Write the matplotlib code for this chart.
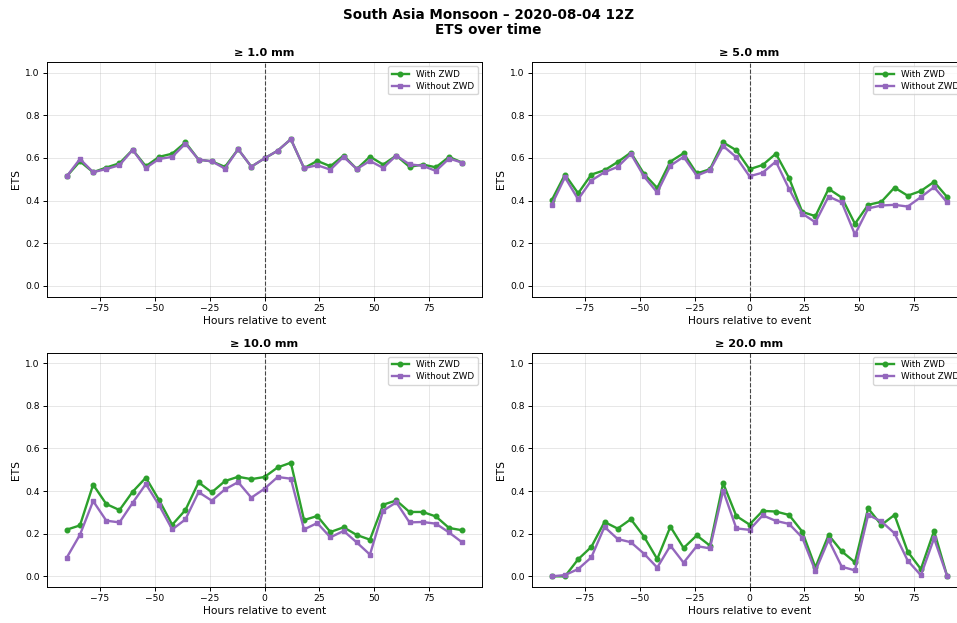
import matplotlib
matplotlib.use("Agg")
import matplotlib.pyplot as plt
import numpy as np

hours = list(range(-90, 91, 6))

thresholds = ["≥ 1.0 mm", "≥ 5.0 mm", "≥ 10.0 mm", "≥ 20.0 mm"]

with_zwd_1 = [0.514, 0.584, 0.533, 0.555, 0.575, 0.638, 0.561, 0.605, 0.620, 0.673,
              0.592, 0.584, 0.558, 0.641, 0.559, 0.598, 0.634, 0.688, 0.552, 0.586,
              0.561, 0.611, 0.548, 0.606, 0.569, 0.611, 0.558, 0.569, 0.556, 0.605, 0.578]
without_zwd_1 = [0.514, 0.595, 0.533, 0.548, 0.566, 0.638, 0.553, 0.595, 0.605, 0.667,
                 0.592, 0.584, 0.550, 0.641, 0.559, 0.598, 0.634, 0.688, 0.552, 0.566,
                 0.545, 0.605, 0.548, 0.586, 0.553, 0.611, 0.570, 0.563, 0.539, 0.597, 0.578]

with_zwd_5 = [0.402, 0.522, 0.434, 0.522, 0.542, 0.581, 0.625, 0.525, 0.459, 0.583,
              0.622, 0.527, 0.547, 0.673, 0.636, 0.547, 0.567, 0.620, 0.506, 0.347,
              0.327, 0.455, 0.414, 0.291, 0.380, 0.394, 0.461, 0.423, 0.445, 0.488, 0.416]
without_zwd_5 = [0.381, 0.509, 0.406, 0.494, 0.533, 0.558, 0.619, 0.513, 0.438, 0.564,
                 0.605, 0.517, 0.542, 0.656, 0.603, 0.514, 0.531, 0.583, 0.455, 0.339,
                 0.298, 0.419, 0.391, 0.241, 0.363, 0.377, 0.380, 0.372, 0.416, 0.463, 0.391]

with_zwd_10 = [0.219, 0.239, 0.430, 0.339, 0.311, 0.397, 0.463, 0.358, 0.242, 0.311,
               0.441, 0.394, 0.447, 0.467, 0.456, 0.466, 0.511, 0.533, 0.264, 0.283,
               0.208, 0.230, 0.194, 0.172, 0.336, 0.356, 0.302, 0.302, 0.281, 0.227, 0.216]
without_zwd_10 = [0.088, 0.195, 0.353, 0.261, 0.253, 0.345, 0.433, 0.334, 0.220, 0.267,
                  0.395, 0.355, 0.408, 0.442, 0.369, 0.411, 0.466, 0.458, 0.220, 0.250,
                  0.183, 0.213, 0.159, 0.102, 0.308, 0.347, 0.253, 0.255, 0.247, 0.206, 0.159]

with_zwd_20 = [0.000, 0.000, 0.080, 0.138, 0.255, 0.224, 0.268, 0.186, 0.081, 0.233,
               0.133, 0.192, 0.144, 0.437, 0.283, 0.243, 0.307, 0.304, 0.288, 0.210,
               0.042, 0.194, 0.117, 0.066, 0.319, 0.241, 0.288, 0.116, 0.034, 0.213, 0.000]
without_zwd_20 = [0.000, 0.006, 0.034, 0.089, 0.232, 0.175, 0.160, 0.106, 0.041, 0.144,
                  0.064, 0.142, 0.131, 0.402, 0.225, 0.218, 0.286, 0.260, 0.246, 0.182,
                  0.025, 0.171, 0.045, 0.028, 0.288, 0.258, 0.202, 0.074, 0.005, 0.178, 0.000]

with_all = [with_zwd_1, with_zwd_5, with_zwd_10, with_zwd_20]
without_all = [without_zwd_1, without_zwd_5, without_zwd_10, without_zwd_20]

W, H = 957, 623
fig = plt.figure(figsize=(W / 100, H / 100), dpi=100)

# axes boxes in pixels: (left, top, width, height)
boxes = [(47, 62, 435, 234.5), (532, 62, 435, 234.5),
         (47, 352.5, 435, 234.5), (532, 352.5, 435, 234.5)]

for i, (l, t, w, h) in enumerate(boxes):
    ax = fig.add_axes([l / W, (H - t - h) / H, w / W, h / H])
    ax.plot(hours, with_all[i], color="#2ca02c", marker="o", markersize=3.3,
            linewidth=1.7, label="With ZWD")
    ax.plot(hours, without_all[i], color="#9467bd", marker="s", markersize=3.3,
            linewidth=1.7, label="Without ZWD")
    ax.axvline(0, color="k", linestyle="--", linewidth=0.8, alpha=0.7)
    ax.set_ylim(-0.05, 1.05)
    ax.set_xlim(-99, 99)
    ax.set_title(thresholds[i], fontsize=8.1, fontweight="bold", pad=4)
    ax.set_xlabel("Hours relative to event", fontsize=7.7, labelpad=2)
    ax.set_ylabel("ETS", fontsize=7.7, labelpad=3)
    ax.tick_params(labelsize=6.6, length=2.8, width=0.7, pad=2.5)
    ax.grid(True, alpha=0.3, linewidth=0.7)
    for s in ax.spines.values():
        s.set_linewidth(0.7)
    ax.legend(loc="upper right", fontsize=6.3, framealpha=0.8, borderpad=0.4,
              handlelength=2.0, labelspacing=0.35)

fig.text(488.5 / W, 1 - 8 / H, "South Asia Monsoon – 2020-08-04 12Z\nETS over time",
         ha="center", va="top", fontsize=9.75, fontweight="bold", linespacing=1.1)

fig.savefig("out.png", dpi=100)
